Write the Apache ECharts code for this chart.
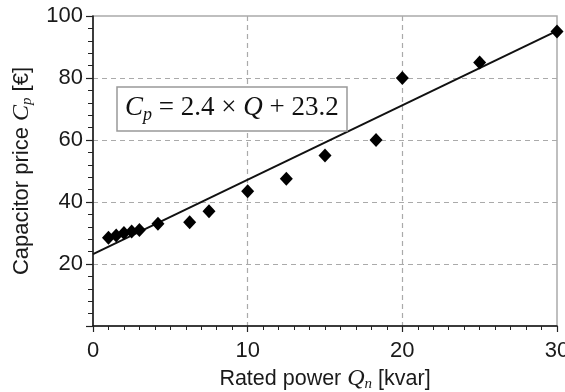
<!DOCTYPE html>
<html><head><meta charset="utf-8">
<script src="https://cdn.jsdelivr.net/npm/echarts@6/dist/echarts.min.js"></script>
<style>html,body{margin:0;padding:0;background:#fff}#c{width:565px;height:392px}</style>
</head><body><div id="c"></div>
<script>
// Measured points: rated power Q_n [kvar] and capacitor price C_p [€]
const ratedPower = [1, 1.5, 2, 2.5, 3, 4.2, 6.25, 7.5, 10, 12.5, 15, 18.3, 20, 25, 30];
const price      = [28.5, 29.2, 30, 30.5, 31, 33, 33.5, 37, 43.5, 47.5, 55, 60, 80, 85, 95];
// Fitted line C_p = 2.4*Q + 23.2, endpoints
const fitQ = [0, 30];
const fitC = [23.2, 95.2];
const xTicks = [0, 10, 20, 30];
const yTicks = [20, 40, 60, 80, 100];

const points = ratedPower.map((q, i) => [q, price[i]]);
const fit = fitQ.map((q, i) => [q, fitC[i]]);

const chart = echarts.init(document.getElementById('c'));
const sans = 'Liberation Sans';
const serif = 'Liberation Serif';
const nameRich = {
  i: { fontFamily: serif, fontStyle: 'italic', fontSize: 24, color: '#1a1a1a' },
  sub: { fontFamily: serif, fontStyle: 'italic', fontSize: 15, color: '#1a1a1a', padding: [11, 0, 0, 0] }
};
chart.setOption({
  animation: false,
  grid: { left: 93, right: 8, top: 16, bottom: 66, show: true, borderColor: '#aaa', borderWidth: 1.5,
          containLabel: false, outerBoundsMode: 'none' },
  xAxis: {
    type: 'value', min: xTicks[0], max: xTicks[xTicks.length - 1], interval: 10,
    name: 'Rated power {i|Q}{sub|n} [kvar]', nameLocation: 'middle', nameGap: 40,
    nameTextStyle: { fontFamily: sans, fontSize: 21.5, color: '#1a1a1a', rich: nameRich },
    axisLine: { lineStyle: { color: '#111', width: 1.5 } },
    axisTick: { length: 6, lineStyle: { color: '#222', width: 1.2 } },
    minorTick: { show: true, splitNumber: 10, length: 4, lineStyle: { color: '#222', width: 1 } },
    axisLabel: { fontFamily: sans, fontSize: 22, color: '#1a1a1a', margin: 14 },
    splitLine: { show: true, showMinLine: false, showMaxLine: false, lineStyle: { color: '#aaa', type: [5, 4], width: 1.2 } }
  },
  yAxis: {
    type: 'value', min: 0, max: yTicks[yTicks.length - 1], interval: 20,
    name: 'Capacitor price {i|C}{sub|p} [€]', nameLocation: 'middle', nameGap: 58,
    nameTextStyle: { fontFamily: sans, fontSize: 22, color: '#1a1a1a', rich: nameRich },
    axisLine: { show: true, lineStyle: { color: '#111', width: 1.5 } },
    axisTick: { show: true, length: 7, lineStyle: { color: '#222', width: 1.2 } },
    minorTick: { show: true, splitNumber: 5, length: 5, lineStyle: { color: '#222', width: 1 } },
    axisLabel: { fontFamily: sans, fontSize: 22, color: '#1a1a1a', margin: 10, showMinLabel: false },
    splitLine: { show: true, showMinLine: false, showMaxLine: false, lineStyle: { color: '#aaa', type: [5, 4], width: 1.2 } }
  },
  series: [
    { type: 'line', data: fit, symbol: 'none', lineStyle: { color: '#111', width: 2 }, z: 3 },
    { type: 'scatter', data: points, symbol: 'diamond', symbolSize: [13, 14], itemStyle: { color: '#000', opacity: 1 }, z: 4 }
  ],
  graphic: [
    { type: 'rect', shape: { x: 117, y: 87, width: 230, height: 44 }, style: { fill: '#fff', stroke: '#999', lineWidth: 1.5 }, z: 10 },
    { type: 'text', x: 125, y: 108, z: 11,
      style: { text: '{i|C}{sub|p}{n| = 2.4 × }{i|Q}{n| + 23.2}', verticalAlign: 'middle',
        rich: { i: { fontFamily: serif, fontStyle: 'italic', fontSize: 27, fill: '#111' },
                sub: { fontFamily: serif, fontStyle: 'italic', fontSize: 18, fill: '#111', padding: [14, 0, 0, 0] },
                n: { fontFamily: serif, fontSize: 27, fill: '#111' } } } }
  ]
});
</script></body></html>
